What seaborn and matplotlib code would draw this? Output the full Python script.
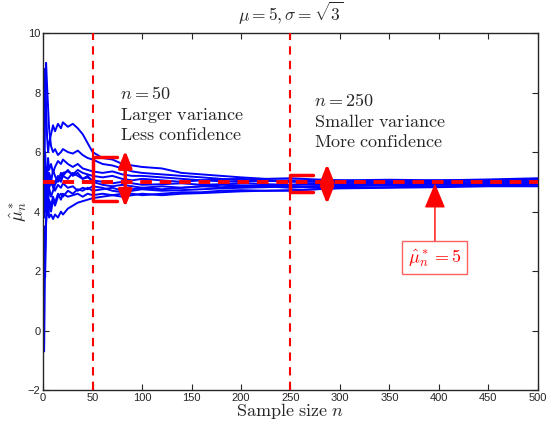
import numpy as np
import pandas as pd
import matplotlib
matplotlib.use("Agg")
import matplotlib.pyplot as plt
import seaborn as sns

# sample sizes at which the running estimates were read off
n_vals = [1, 2, 3, 4, 5, 6, 8, 10, 12, 15, 18, 20, 25, 30, 35, 40, 45, 50,
          60, 70, 80, 90, 100, 120, 140, 160, 180, 200, 225, 250, 275, 300,
          350, 400, 450, 500]

run1 = [5.5, 8.8, 7.5, 6.5, 6.0, 6.3, 6.6, 6.9, 6.7, 6.95, 6.8, 7.0, 6.85, 6.95, 6.8, 6.6, 6.3, 6.0,
        5.8, 5.75, 5.6, 5.55, 5.5, 5.45, 5.3, 5.25, 5.2, 5.15, 5.1, 5.12, 5.08, 5.05, 5.0, 5.02, 5.05, 5.1]
run2 = [4.0, 8.0, 9.0, 8.2, 7.5, 6.8, 6.2, 6.0, 6.1, 5.9, 6.0, 6.1, 6.0, 5.95, 6.05, 5.9, 5.8, 5.75,
        5.6, 5.55, 5.45, 5.35, 5.3, 5.25, 5.2, 5.15, 5.1, 5.05, 5.05, 5.0, 5.0, 4.98, 4.95, 4.97, 5.0, 5.05]
run3 = [5.8, 4.5, 5.5, 5.2, 5.8, 5.4, 5.6, 5.3, 5.5, 5.7, 5.6, 5.75, 5.6, 5.5, 5.6, 5.45, 5.4, 5.35,
        5.3, 5.35, 5.25, 5.2, 5.2, 5.15, 5.1, 5.05, 5.08, 5.1, 5.05, 5.05, 5.03, 5.0, 5.02, 5.05, 5.08, 5.12]
run4 = [-0.7, 2.5, 3.8, 4.5, 4.2, 4.8, 4.5, 4.7, 4.9, 5.1, 5.0, 5.2, 5.1, 5.3, 5.2, 5.1, 5.15, 5.05,
        5.0, 4.95, 5.0, 4.95, 4.9, 4.92, 4.95, 4.9, 4.92, 4.95, 4.92, 4.9, 4.95, 4.97, 4.95, 4.93, 4.97, 5.0]
run5 = [3.5, 1.8, 3.6, 4.0, 3.9, 4.3, 4.0, 4.4, 4.2, 4.5, 4.6, 4.5, 4.7, 4.6, 4.75, 4.7, 4.8, 4.7,
        4.75, 4.8, 4.7, 4.75, 4.8, 4.85, 4.8, 4.85, 4.9, 4.88, 4.85, 4.8, 4.85, 4.88, 4.9, 4.92, 4.9, 4.95]
run6 = [4.8, 5.9, 4.5, 3.9, 4.3, 3.8, 3.9, 3.75, 3.9, 3.8, 4.0, 3.9, 4.1, 4.2, 4.3, 4.35, 4.4, 4.45,
        4.5, 4.55, 4.6, 4.6, 4.55, 4.6, 4.65, 4.65, 4.7, 4.72, 4.7, 4.7, 4.75, 4.78, 4.8, 4.82, 4.85, 4.85]
run7 = [6.0, 4.0, 5.0, 4.5, 5.2, 4.8, 5.0, 5.4, 5.2, 5.0, 5.3, 5.2, 5.4, 5.2, 5.3, 5.1, 5.2, 5.0,
        4.9, 4.85, 4.9, 4.85, 4.8, 4.75, 4.8, 4.85, 4.82, 4.85, 4.88, 4.9, 4.9, 4.92, 4.9, 4.95, 4.95, 4.98]
run8 = [4.5, 5.5, 4.2, 5.0, 4.6, 5.2, 4.9, 5.0, 4.7, 4.9, 4.8, 4.95, 4.8, 4.85, 4.7, 4.8, 4.75, 4.85,
        4.8, 4.7, 4.65, 4.7, 4.75, 4.7, 4.72, 4.75, 4.78, 4.8, 4.82, 4.85, 4.82, 4.85, 4.88, 4.9, 4.92, 4.95]
run9 = [3.8, 4.6, 4.0, 4.3, 4.0, 4.4, 4.2, 4.5, 4.3, 4.6, 4.4, 4.6, 4.5, 4.55, 4.6, 4.5, 4.6, 4.55,
        4.6, 4.55, 4.5, 4.55, 4.6, 4.55, 4.6, 4.62, 4.65, 4.68, 4.7, 4.72, 4.75, 4.8, 4.82, 4.85, 4.88, 4.9]
run10 = [5.2, 6.0, 5.0, 5.5, 5.0, 5.3, 5.1, 4.8, 5.0, 5.2, 5.1, 5.3, 5.35, 5.25, 5.4, 5.3, 5.25, 5.2,
         5.15, 5.2, 5.1, 5.05, 5.1, 5.05, 5.0, 5.05, 5.02, 5.0, 5.03, 5.02, 5.05, 5.05, 5.07, 5.05, 5.05, 5.08]

runs = [run1, run2, run3, run4, run5, run6, run7, run8, run9, run10]
true_mu = 5

# long form table for seaborn
df = pd.DataFrame({
    "n": n_vals * len(runs),
    "mu": sum(runs, []),
    "run": np.repeat(np.arange(len(runs)), len(n_vals)),
})

sns.set_style("ticks")
plt.rcParams["mathtext.fontset"] = "cm"
plt.rcParams["font.family"] = ["Liberation Sans", "DejaVu Sans"]
plt.rcParams["xtick.direction"] = "in"
plt.rcParams["ytick.direction"] = "in"

fig = plt.figure(figsize=(5.46, 4.24), dpi=100)
ax = fig.add_axes([0.079, 0.08, 0.906, 0.842])

sns.lineplot(data=df, x="n", y="mu", units="run", estimator=None,
             color="blue", lw=1.4, ax=ax, legend=False)

# reference lines
ax.axhline(true_mu, color="red", lw=2.8, ls=(0, (3, 2)), zorder=5)
for nv in [50, 250]:
    ax.axvline(nv, color="red", lw=1.5, ls=(0, (4, 3)), zorder=4)

# brackets showing spread at n=50 and n=250
ax.plot([75, 50, 50, 75], [5.83, 5.83, 4.35, 4.35], color="red", lw=2.5, zorder=6)
ax.plot([273, 250, 250, 273], [5.22, 5.22, 4.65, 4.65], color="red", lw=2.5, zorder=6)

# double arrows
for xa, top, bot in [(83, 6.05, 4.15), (287, 5.6, 4.25)]:
    ax.annotate("", xy=(xa, top), xytext=(xa, bot),
                arrowprops=dict(arrowstyle="<|-|>,head_width=0.4,head_length=1.0",
                                color="red", lw=2.5, shrinkA=0, shrinkB=0), zorder=7)

# labelled arrow to the true mean
ax.annotate(r"$\hat{\mu}^*_n=5$", xy=(396, 4.95), xytext=(396, 2.45),
            color="red", fontsize=13, ha="center", va="center",
            bbox=dict(boxstyle="square,pad=0.3", fc="white", ec="#ff6060", lw=1),
            arrowprops=dict(arrowstyle="-|>,head_width=0.5,head_length=1.2",
                            color="red", lw=1, shrinkA=0, shrinkB=0), zorder=8)

# text blocks
txt_kw = dict(fontsize=13, va="center", ha="left")
ax.text(78, 7.93, r"$n = 50$", **txt_kw)
ax.text(78, 7.24, r"$\mathrm{Larger\ variance}$", **txt_kw)
ax.text(78, 6.57, r"$\mathrm{Less\ confidence}$", **txt_kw)
ax.text(274, 7.70, r"$n = 250$", **txt_kw)
ax.text(274, 7.0, r"$\mathrm{Smaller\ variance}$", **txt_kw)
ax.text(274, 6.33, r"$\mathrm{More\ confidence}$", **txt_kw)

ax.set_xlim(0, 500)
ax.set_ylim(-2, 10)
ax.set_xticks(np.arange(0, 501, 50))
ax.set_yticks(np.arange(-2, 11, 2))
ax.tick_params(labelsize=8, length=4, width=0.8, top=True, right=True, pad=2)
for sp in ax.spines.values():
    sp.set_linewidth(1.0)
    sp.set_visible(True)

ax.set_title(r"$\mu = 5, \sigma = \sqrt{3}$", fontsize=12.5, pad=9)
ax.set_xlabel(r"$\mathrm{Sample\ size}\ n$", fontsize=13, labelpad=-1)
ax.set_ylabel(r"$\hat{\mu}^*_n$", fontsize=13, labelpad=-1)

fig.savefig("out.png", dpi=100)
